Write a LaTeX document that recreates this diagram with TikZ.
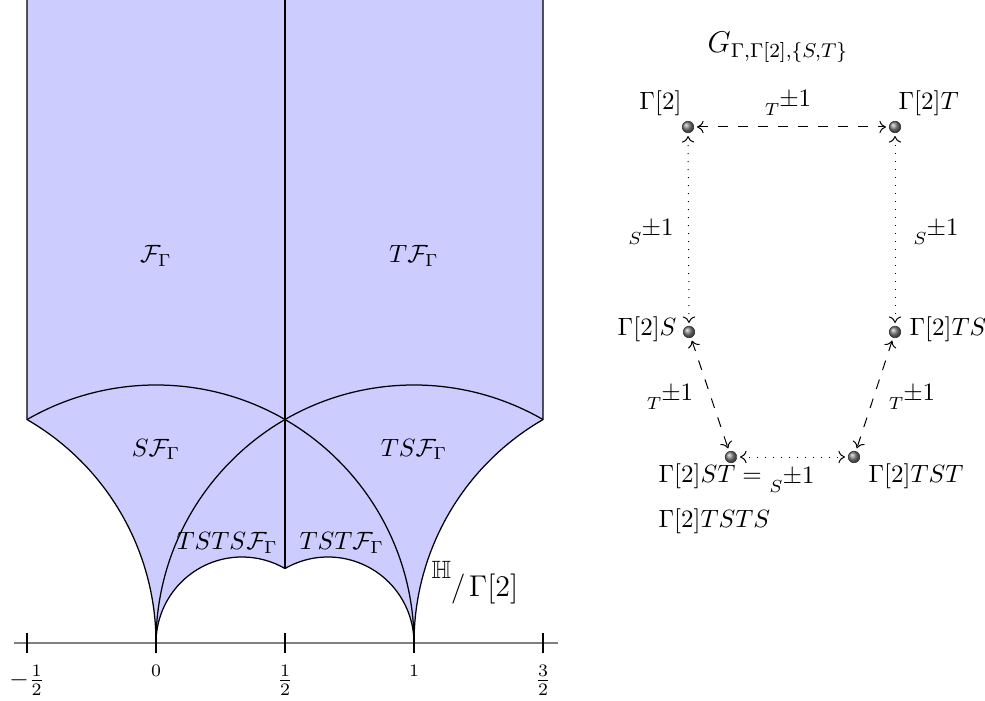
\documentclass[tikz,border=0pt]{standalone}
\usepackage{amssymb}
\usetikzlibrary{arrows.meta,shadings}
\newcommand{\pmlab}[1]{$\scriptstyle #1\raise3.6pt\hbox{$\pm1$}$}
\begin{document}
\begin{tikzpicture}[x=0.4pt,y=0.4pt,
  regionfill/.style={fill=blue!20},
  plotline/.style={draw=black,line width=0.5pt},
  axisline/.style={draw=gray,line width=0.7pt},
  tickline/.style={draw=black,line width=0.5pt},
  ballnode/.style={circle,inner sep=0pt,minimum size=4.6pt,shading=ball,ball color=gray,draw=black!80,line width=0.25pt},
  arr/.style={{To[length=2.6pt,width=5pt]}-{To[length=2.6pt,width=5pt]},shorten <=1.2pt,shorten >=1.2pt,line width=0.4pt},
  dsh/.style={dash pattern=on 4pt off 4pt},
  dts/.style={dash pattern=on 0.45pt off 2.75pt},
  lbl/.style={inner sep=0pt}]
\useasboundingbox (0,0) rectangle (985,700);

% ---- fundamental domains
\begin{scope}[xshift=62.4pt,yshift=22.8pt,x=103.2pt,y=103.2pt]
  \fill[regionfill] (-0.5,2.4922) -- (-0.5,{sqrt(3)/2})
     arc[start angle=60,end angle=0,radius=1]
     arc[start angle=180,end angle=60,radius=1/3]
     arc[start angle=120,end angle=0,radius=1/3]
     arc[start angle=180,end angle=120,radius=1] -- (1.5,2.4922) -- cycle;
  \draw[plotline] (-0.5,2.4922) -- (-0.5,{sqrt(3)/2})
     arc[start angle=60,end angle=0,radius=1]
     arc[start angle=180,end angle=60,radius=1/3]
     arc[start angle=120,end angle=0,radius=1/3]
     arc[start angle=180,end angle=120,radius=1] -- (1.5,2.4922);
  \draw[plotline] (1,0) arc[start angle=0,end angle=120,radius=1];
  \draw[plotline] (0,0) arc[start angle=180,end angle=60,radius=1];
  \draw[plotline] (0.5,2.4922) -- (0.5,{sqrt(3)/6});
  \draw[axisline] (-0.55,0) -- (1.56,0);
  \foreach \t in {-0.5,0,0.5,1,1.5} \draw[tickline] (\t,-0.04) -- (\t,0.04);
  \node[lbl,anchor=north] (xa) at (-0.5,-0.085) {$-\frac{1}{2}$};
  \node[lbl,anchor=north] (xb) at (0,-0.085) {\scriptsize$0$};
  \node[lbl,anchor=north] (xc) at (0.5,-0.085) {$\frac{1}{2}$};
  \node[lbl,anchor=north] (xd) at (1,-0.085) {\scriptsize$1$};
  \node[lbl,anchor=north] (xe) at (1.5,-0.085) {$\frac{3}{2}$};
  \node[lbl] (f1) at (0,1.5) {$\mathcal{F}_\Gamma$};
  \node[lbl] (f2) at (1,1.5) {$T\mathcal{F}_\Gamma$};
  \node[lbl] (f3) at (0,0.75) {$S\mathcal{F}_\Gamma$};
  \node[lbl] (f4) at (1,0.75) {$TS\mathcal{F}_\Gamma$};
  \node[lbl] (f5) at (0.276,0.388) {$TSTS\mathcal{F}_\Gamma$};
  \node[lbl] (f6) at (0.72,0.388) {$TST\mathcal{F}_\Gamma$};
\end{scope}
\node[lbl,anchor=base west] (quot) at (431,104)
  {\fontsize{13}{15}\selectfont$\raise7pt\hbox{\normalsize$\mathbb{H}$}\hbox{\fontsize{11.5}{13}\selectfont$/$}\mkern2mu\Gamma[2]$};

% ---- graph
\node (title) at (778,653) {\large$G_{\Gamma,\Gamma[2],\{S,T\}}$};
\node[ballnode] (g1) at (688,573) {};
\node[ballnode] (g2) at (895,573) {};
\node[ballnode] (g3) at (689,368) {};
\node[ballnode] (g4) at (895,368) {};
\node[ballnode] (g5) at (731,243) {};
\node[ballnode] (g6) at (854,243) {};
\draw[arr,dsh] (g1) -- (g2);
\draw[arr,dts] (g1) -- (g3);
\draw[arr,dts] (g2) -- (g4);
\draw[arr,dsh] (g3) -- (g5);
\draw[arr,dsh] (g4) -- (g6);
\draw[arr,dts] (g5) -- (g6);
\node[lbl,anchor=base east] (t1) at (682,590) {$\Gamma[2]$};
\node[lbl,anchor=base west] (t2) at (898,590) {$\Gamma[2]T$};
\node[lbl,anchor=base east] (t3) at (677,364) {$\Gamma[2]S$};
\node[lbl,anchor=base west] (t4) at (909,364) {$\Gamma[2]TS$};
\node[lbl,anchor=base west] (t5) at (658,217) {$\Gamma[2]ST = $};
\node[lbl,anchor=base west] (t5b) at (658,173) {$\Gamma[2]TSTS$};
\node[lbl,anchor=base west] (t6) at (868,217) {$\Gamma[2]TST$};
\node[lbl] (e1) at (788,597) {\pmlab{T}};
\node[lbl] (e2) at (651,468) {\pmlab{S}};
\node[lbl] (e3) at (936,468) {\pmlab{S}};
\node[lbl] (e4) at (670,303) {\pmlab{T}};
\node[lbl] (e5) at (912,303) {\pmlab{T}};
\node[lbl] (e6) at (792,220) {\pmlab{S}};
\end{tikzpicture}
\end{document}
